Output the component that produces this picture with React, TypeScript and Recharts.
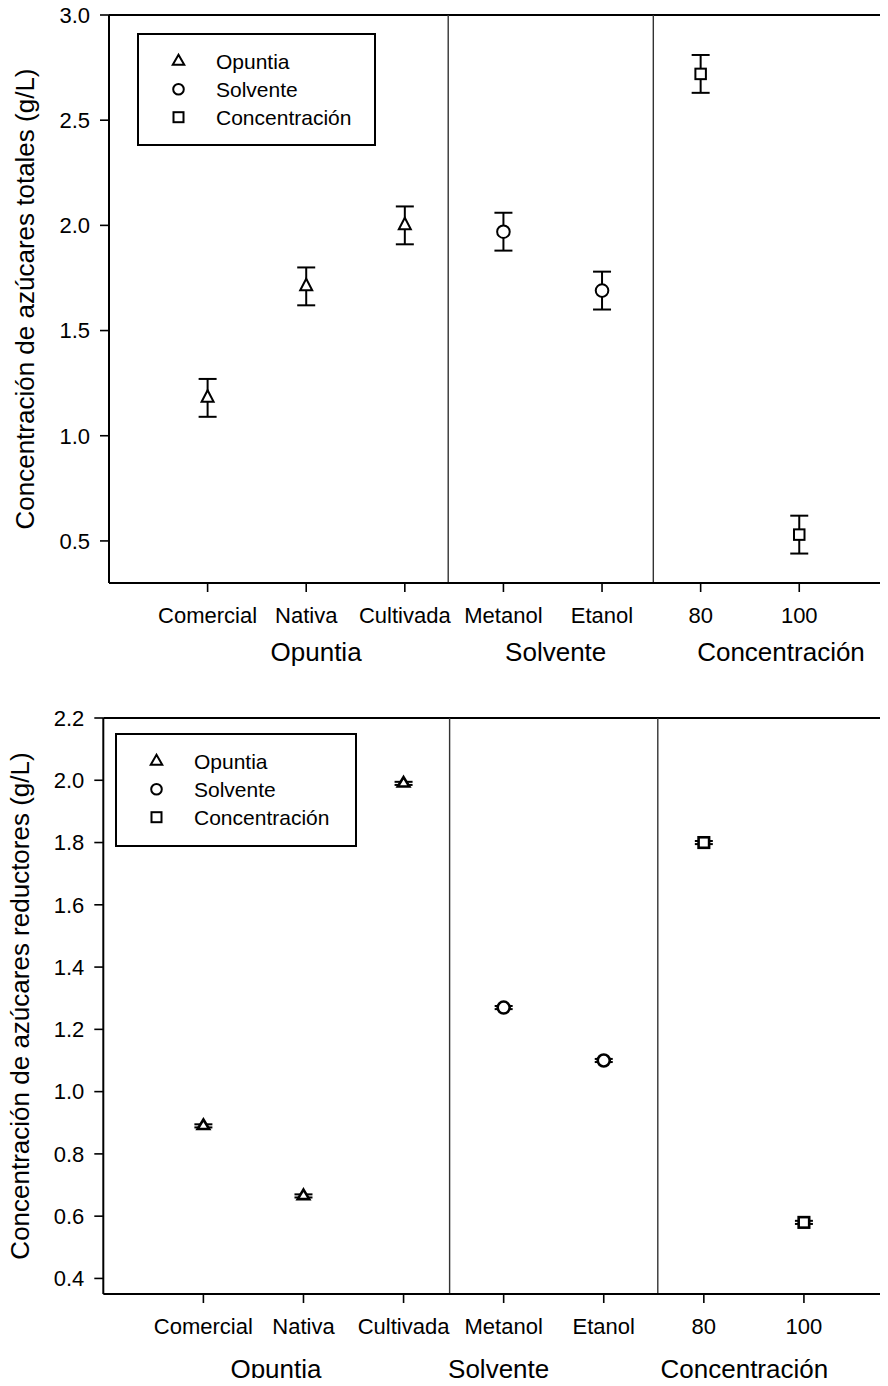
import React from 'react';
import {
  ScatterChart,
  Scatter,
  XAxis,
  YAxis,
  ErrorBar,
  ReferenceLine,
  Legend,
  Label,
} from 'recharts';

const FONT = '"Liberation Sans", Arial, Helvetica, sans-serif';

// Category ticks along the x axis (positions 1..7)
const tickLabels = ['Comercial', 'Nativa', 'Cultivada', 'Metanol', 'Etanol', '80', '100'];
const groupNames = ['Opuntia', 'Solvente', 'Concentración'];

const opuntiaX = [1, 2, 3];
const solventeX = [4, 5];
const concentracionX = [6, 7];

// Azúcares totales (g/L): mean and error
const totalesOpuntia = [1.18, 1.71, 2.0];
const totalesOpuntiaErr = [0.09, 0.09, 0.09];
const totalesSolvente = [1.97, 1.69];
const totalesSolventeErr = [0.09, 0.09];
const totalesConcentracion = [2.72, 0.53];
const totalesConcentracionErr = [0.09, 0.09];

// Azúcares reductores (g/L): mean and error
const reductoresOpuntia = [0.89, 0.665, 1.99];
const reductoresOpuntiaErr = [0.005, 0.005, 0.005];
const reductoresSolvente = [1.27, 1.1];
const reductoresSolventeErr = [0.005, 0.005];
const reductoresConcentracion = [1.8, 0.58];
const reductoresConcentracionErr = [0.005, 0.005];

// y-axis ticks
const totalesYTicks = [0.5, 1.0, 1.5, 2.0, 2.5, 3.0];
const reductoresYTicks = [0.4, 0.6, 0.8, 1.0, 1.2, 1.4, 1.6, 1.8, 2.0, 2.2];

// group separators and group title positions (x units)
const totalesDividers = [3.44, 5.52];
const totalesGroupPos = [2.1, 4.53, 6.815];
const reductoresDividers = [3.46, 5.54];
const reductoresGroupPos = [1.725, 3.95, 6.405];

type Kind = 'triangle' | 'circle' | 'square';
const groupKinds: Kind[] = ['triangle', 'circle', 'square'];

type Row = { x: number; y: number; err: number };
const buildRows = (xs: number[], ys: number[], errs: number[]): Row[] =>
  xs.map((x, i) => ({ x, y: ys[i], err: errs[i] }));

type MarkStyle = { triW: number; triH: number; r: number; sq: number; sw: number };

function Marker({ kind, cx, cy, st }: { kind: Kind; cx: number; cy: number; st: MarkStyle }) {
  if (kind === 'triangle') {
    const w = st.triW;
    const h = st.triH;
    const pts = `${cx},${cy - (2 * h) / 3} ${cx + w / 2},${cy + h / 3} ${cx - w / 2},${cy + h / 3}`;
    return <polygon points={pts} fill="#fff" stroke="#000" strokeWidth={st.sw} />;
  }
  if (kind === 'circle') {
    return <circle cx={cx} cy={cy} r={st.r} fill="#fff" stroke="#000" strokeWidth={st.sw} />;
  }
  return (
    <rect
      x={cx - st.sq / 2}
      y={cy - st.sq / 2}
      width={st.sq}
      height={st.sq}
      fill="#fff"
      stroke="#000"
      strokeWidth={st.sw}
    />
  );
}

const legendMark: MarkStyle = { triW: 11.5, triH: 10, r: 5.3, sq: 10, sw: 2 };

function LegendBox({ width, height }: { width: number; height: number }) {
  const rows = [28.4, 56.2, 84.2];
  return (
    <svg width={width} height={height} style={{ display: 'block' }}>
      <rect x={1} y={1} width={width - 2} height={height - 2} fill="#fff" stroke="#000" strokeWidth={2} />
      {groupNames.map((name, i) => (
        <g key={name}>
          <Marker kind={groupKinds[i]} cx={41.5} cy={rows[i]} st={legendMark} />
          <text x={79} y={rows[i] + 7.6} fontSize={21} fontFamily={FONT} fill="#000">
            {name}
          </text>
        </g>
      ))}
    </svg>
  );
}

type Series = { name: string; kind: Kind; rows: Row[] };

type PanelProps = {
  height: number;
  marginTop: number;
  marginBottom: number;
  yAxisWidth: number;
  yDomain: [number, number];
  yTicks: number[];
  xMax: number;
  dividers: number[];
  groupPos: number[];
  groupOffset: number;
  title: string;
  titleX: number;
  series: Series[];
  legendLeft: number;
  legendTop: number;
  legendW: number;
  legendH: number;
  mark: MarkStyle;
};

function Panel(p: PanelProps) {
  const xTicks = tickLabels.map((_, i) => i + 1);
  const renderTitle = (props: any) => {
    const vb = props.viewBox || { y: 0, height: 0 };
    const cy = vb.y + vb.height / 2;
    return (
      <text
        x={p.titleX}
        y={cy}
        transform={`rotate(-90 ${p.titleX} ${cy})`}
        textAnchor="middle"
        fontSize={26}
        fontFamily={FONT}
        fill="#000"
      >
        {p.title}
      </text>
    );
  };
  return (
    <ScatterChart
      width={880}
      height={p.height}
      margin={{ top: p.marginTop, right: 0, bottom: p.marginBottom, left: 0 }}
    >
      <XAxis
        xAxisId="cat"
        type="number"
        dataKey="x"
        domain={[0, p.xMax]}
        allowDataOverflow
        ticks={xTicks}
        interval={0}
        tickFormatter={(v: number) => tickLabels[v - 1] ?? ''}
        height={50}
        tickSize={9}
        tickMargin={15}
        axisLine={{ stroke: '#000', strokeWidth: 2 }}
        tickLine={{ stroke: '#000', strokeWidth: 1.6 }}
        tick={{ fill: '#000', fontSize: 22, fontFamily: FONT }}
      />
      <YAxis
        type="number"
        dataKey="y"
        domain={p.yDomain}
        allowDataOverflow
        ticks={p.yTicks}
        interval={0}
        tickFormatter={(v: number) => v.toFixed(1)}
        width={p.yAxisWidth}
        tickSize={9}
        tickMargin={10}
        axisLine={{ stroke: '#000', strokeWidth: 2 }}
        tickLine={{ stroke: '#000', strokeWidth: 1.6 }}
        tick={{ fill: '#000', fontSize: 22, fontFamily: FONT }}
      >
        <Label content={renderTitle} />
      </YAxis>
      <ReferenceLine xAxisId="cat" y={p.yDomain[1]} stroke="#000" strokeWidth={2} />
      {p.dividers.map((d) => (
        <ReferenceLine key={d} xAxisId="cat" x={d} stroke="#333" strokeWidth={1.4} />
      ))}
      {/* group titles under the category ticks */}
      {p.groupPos.map((g, i) => (
        <ReferenceLine
          key={`g${i}`}
          xAxisId="cat"
          x={g}
          stroke="none"
          strokeOpacity={0}
          label={{
            value: groupNames[i],
            position: 'bottom',
            offset: p.groupOffset,
            fill: '#000',
            fontSize: 26,
            fontFamily: FONT,
          }}
        />
      ))}
      {p.series.map((s) => (
        <Scatter
          key={s.name}
          name={s.name}
          xAxisId="cat"
          data={s.rows}
          dataKey="y"
          isAnimationActive={false}
          legendType="none"
          shape={(sp: any) => <Marker kind={s.kind} cx={sp.cx} cy={sp.cy} st={p.mark} />}
        >
          <ErrorBar dataKey="err" direction="y" width={9} strokeWidth={2} stroke="#000" />
        </Scatter>
      ))}
      <Legend
        layout="horizontal"
        verticalAlign="middle"
        align="center"
        wrapperStyle={{ left: p.legendLeft, top: p.legendTop, width: p.legendW, height: p.legendH }}
        content={() => <LegendBox width={p.legendW} height={p.legendH} />}
      />
    </ScatterChart>
  );
}

export default function App() {
  const totalesSeries: Series[] = [
    { name: groupNames[0], kind: 'triangle', rows: buildRows(opuntiaX, totalesOpuntia, totalesOpuntiaErr) },
    { name: groupNames[1], kind: 'circle', rows: buildRows(solventeX, totalesSolvente, totalesSolventeErr) },
    {
      name: groupNames[2],
      kind: 'square',
      rows: buildRows(concentracionX, totalesConcentracion, totalesConcentracionErr),
    },
  ];
  const reductoresSeries: Series[] = [
    { name: groupNames[0], kind: 'triangle', rows: buildRows(opuntiaX, reductoresOpuntia, reductoresOpuntiaErr) },
    { name: groupNames[1], kind: 'circle', rows: buildRows(solventeX, reductoresSolvente, reductoresSolventeErr) },
    {
      name: groupNames[2],
      kind: 'square',
      rows: buildRows(concentracionX, reductoresConcentracion, reductoresConcentracionErr),
    },
  ];

  return (
    <div style={{ position: 'relative', width: 880, height: 1374, marginTop: -4, fontFamily: FONT }}>
      <style>{'.recharts-surface{overflow:visible}'}</style>
      <div style={{ position: 'absolute', left: 0, top: 0 }}>
        <Panel
          height={684}
          marginTop={11}
          marginBottom={55}
          yAxisWidth={101}
          yDomain={[0.3, 3.0]}
          yTicks={totalesYTicks}
          xMax={7.9}
          dividers={totalesDividers}
          groupPos={totalesGroupPos}
          groupOffset={60}
          title="Concentración de azúcares totales (g/L)"
          titleX={25.5}
          series={totalesSeries}
          legendLeft={128.7}
          legendTop={29.3}
          legendW={239}
          legendH={113}
          mark={{ triW: 12, triH: 11.5, r: 6.3, sq: 10.5, sw: 2 }}
        />
      </div>
      <div style={{ position: 'absolute', left: 0, top: 684 }}>
        <Panel
          height={698}
          marginTop={30}
          marginBottom={42}
          yAxisWidth={95.3}
          yDomain={[0.35, 2.2]}
          yTicks={reductoresYTicks}
          xMax={7.84}
          dividers={reductoresDividers}
          groupPos={reductoresGroupPos}
          groupOffset={66}
          title="Concentración de azúcares reductores (g/L)"
          titleX={21}
          series={reductoresSeries}
          legendLeft={107}
          legendTop={44.7}
          legendW={242}
          legendH={114}
          mark={{ triW: 11.5, triH: 9.5, r: 6, sq: 10.5, sw: 2.6 }}
        />
      </div>
    </div>
  );
}
